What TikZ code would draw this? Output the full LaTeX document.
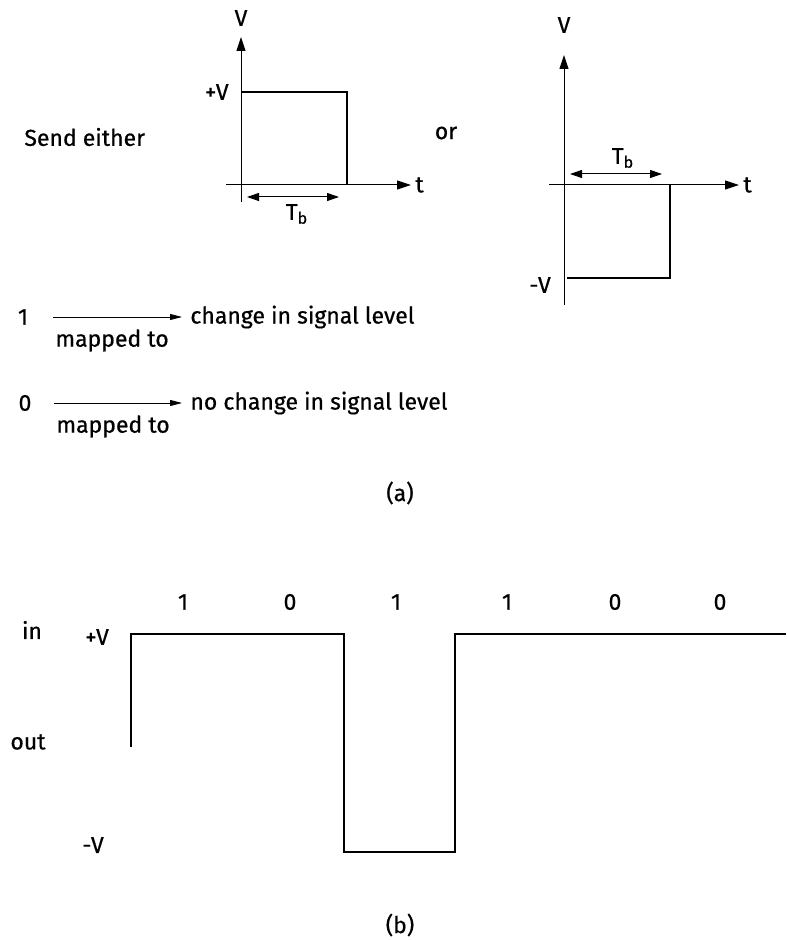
\documentclass[tikz,border=0pt]{standalone}
\usepackage{fontspec}
\setmainfont{Fira Sans}[FakeBold=0.6]
\usetikzlibrary{arrows.meta, positioning}

\begin{document}
\begin{tikzpicture}[
  x=0.5pt, y=-0.5pt,
  font=\fontsize{11.5}{13}\selectfont,
  axis/.style={line width=0.5pt, -{Triangle[length=7pt, width=4.5pt]}},
  sig/.style={line width=1pt},
  span/.style={line width=0.5pt,
    {Triangle[length=6pt, width=4pt]}-{Triangle[length=6pt, width=4pt]}},
  maparrow/.style={line width=0.4pt, -{Triangle[length=6pt, width=3pt]}, shorten >=3pt},
  lbl/.style={inner sep=1pt},
]
  \useasboundingbox (0,0) rectangle (786,940);

  % --- (a) left: positive pulse ---
  \coordinate (yaxA0) at (241,202);
  \coordinate (yaxA1) at (241,37);
  \coordinate (taxA0) at (226,185);
  \coordinate (taxA1) at (411,185);
  \draw[axis] (yaxA0) -- (yaxA1);
  \draw[axis] (taxA0) -- (taxA1);
  \node[lbl] (vA) at (241,18) {V};
  \node[lbl, anchor=west] (tA) at (413,185) {t};
  \node[lbl, anchor=east] (pvA) at (231,92) {+V};
  \coordinate (pA0) at (241,92);
  \coordinate (pA1) at (347,92);
  \coordinate (pA2) at (347,185);
  \draw[sig] (pA0) -- (pA1) -- (pA2);
  \coordinate (tbA0) at (247,197);
  \coordinate (tbA1) at (339,197);
  \draw[span] (tbA0) -- (tbA1);
  \node[lbl] (tbA) at (297,214) {T\textsubscript{b}};

  \node[lbl, anchor=west] (send) at (22,137) {Send either};
  \node[lbl] (or) at (446,133) {or};

  % --- (a) right: negative pulse ---
  \coordinate (yaxB0) at (564,305);
  \coordinate (yaxB1) at (564,55);
  \coordinate (taxB0) at (549,185);
  \coordinate (taxB1) at (739,185);
  \draw[axis] (yaxB0) -- (yaxB1);
  \draw[axis] (taxB0) -- (taxB1);
  \node[lbl] (vB) at (564,25) {V};
  \node[lbl, anchor=west] (tB) at (741,185) {t};
  \node[lbl] (nvB) at (540,285) {-V};
  \coordinate (pB0) at (567,278);
  \coordinate (pB1) at (670,278);
  \coordinate (pB2) at (670,185);
  \draw[sig] (pB0) -- (pB1) -- (pB2);
  \coordinate (tbB0) at (570,174);
  \coordinate (tbB1) at (662,174);
  \draw[span] (tbB0) -- (tbB1);
  \node[lbl] (tbB) at (623,158) {T\textsubscript{b}};

  % --- mapping rules ---
  \node[lbl] (one) at (23,317) {1};
  \node[lbl, anchor=west] (chg) at (188,317) {change in signal level};
  \coordinate (mA) at (53,317);
  \draw[maparrow] (mA) -- (chg.west);
  \node[lbl, anchor=north west] (mapA) at ([yshift=-5pt]mA) {mapped to};

  \node[lbl] (zero) at (25,403) {0};
  \node[lbl, anchor=west] (nochg) at (188,403) {no change in signal level};
  \coordinate (mB) at (54,403);
  \draw[maparrow] (mB) -- (nochg.west);
  \node[lbl, anchor=north west] (mapB) at ([yshift=-5pt]mB) {mapped to};

  \node[lbl] (capA) at (400,493) {(a)};

  % --- (b) coded waveform ---
  \foreach \bit/\x [count=\i] in {1/183, 0/290, 1/396, 1/507, 0/615, 0/720}
    \node[lbl] (bit\i) at (\x,602) {\bit};

  \node[lbl] (in) at (32,630) {in};
  \node[lbl] (pv) at (97,637) {+V};
  \node[lbl] (out) at (28,742) {out};
  \node[lbl] (nv) at (93,845) {-V};

  \coordinate (w0) at (131,747);
  \coordinate (w1) at (131,634);
  \coordinate (w2) at (344,634);
  \coordinate (w3) at (344,852);
  \coordinate (w4) at (455,852);
  \coordinate (w5) at (455,634);
  \coordinate (w6) at (786,634);
  \draw[sig] (w0) -- (w1) -- (w2) -- (w3) -- (w4) -- (w5) -- (w6);

  \node[lbl] (capB) at (400,925) {(b)};

\end{tikzpicture}
\end{document}
